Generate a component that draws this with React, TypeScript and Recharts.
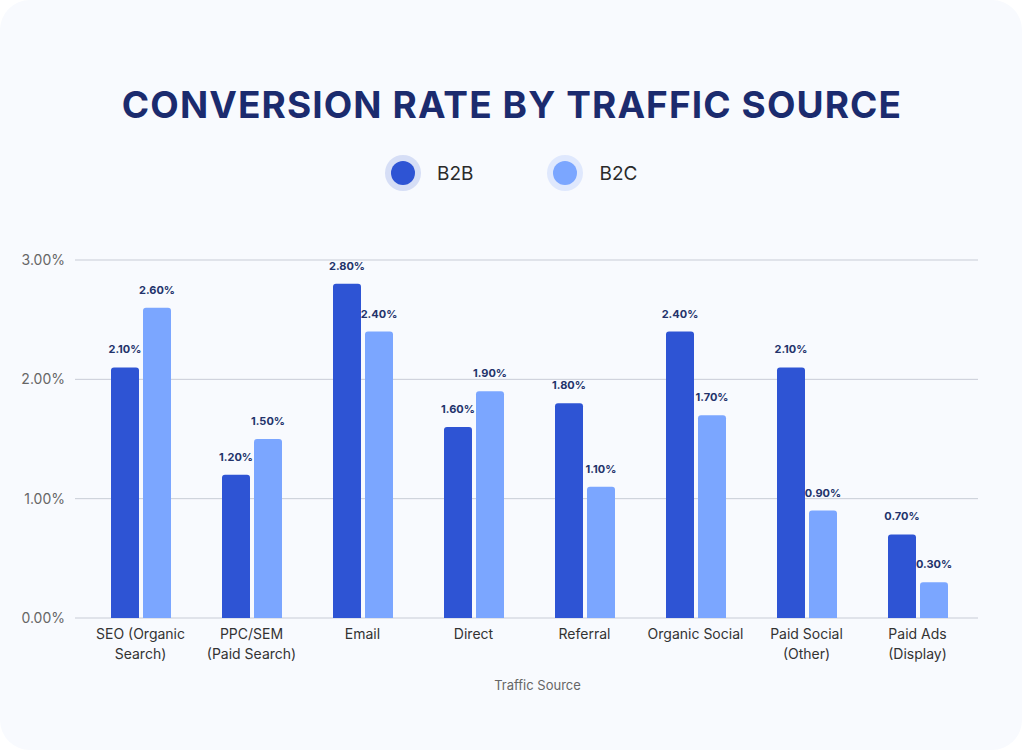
import React from 'react';
import { BarChart, Bar, XAxis, YAxis, CartesianGrid, LabelList } from 'recharts';

// categories (split into the two lines shown under each group)
const categories = [
  'SEO (Organic Search)',
  'PPC/SEM (Paid Search)',
  'Email',
  'Direct',
  'Referral',
  'Organic Social',
  'Paid Social (Other)',
  'Paid Ads (Display)',
];
const tickLines = [
  ['SEO (Organic', 'Search)'],
  ['PPC/SEM', '(Paid Search)'],
  ['Email'],
  ['Direct'],
  ['Referral'],
  ['Organic Social'],
  ['Paid Social', '(Other)'],
  ['Paid Ads', '(Display)'],
];
const b2bValues = [2.1, 1.2, 2.8, 1.6, 1.8, 2.4, 2.1, 0.7];
const b2cValues = [2.6, 1.5, 2.4, 1.9, 1.1, 1.7, 0.9, 0.3];
const yTicks = [0, 1, 2, 3];

const B2B_COLOR = '#2E54D4';
const B2C_COLOR = '#7BA6FF';
const FONT = 'Inter, "Noto Sans", sans-serif';

const chartData = categories.map((name, i) => ({
  name,
  idx: i,
  B2B: b2bValues[i],
  B2C: b2cValues[i],
}));

const pct = (v: any) => `${Number(v).toFixed(2)}%`;

// multi-line category tick
const CategoryTick = (props: any) => {
  const { x, y, payload } = props;
  const lines = tickLines[payload.index] || [payload.value];
  return (
    <text x={x} y={y + 13} textAnchor="middle" fill="#333" fontSize={14} fontFamily={FONT}>
      {lines.map((l, i) => (
        <tspan key={i} x={x} dy={i === 0 ? 0 : 20}>
          {l}
        </tspan>
      ))}
    </text>
  );
};

const LegendItem = ({ color, halo, label }: { color: string; halo: string; label: string }) => (
  <div style={{ display: 'flex', alignItems: 'center' }}>
    <div
      style={{
        width: 36,
        height: 36,
        borderRadius: '50%',
        background: halo,
        display: 'flex',
        alignItems: 'center',
        justifyContent: 'center',
      }}
    >
      <div style={{ width: 24, height: 24, borderRadius: '50%', background: color }} />
    </div>
    <span style={{ marginLeft: 16, fontSize: 19, color: '#2a2a2a', fontFamily: FONT }}>{label}</span>
  </div>
);

export default function App() {
  return (
    <div
      style={{
        position: 'absolute',
        left: 0,
        top: 0,
        width: 1024,
        height: 751,
        background: '#fff',
      }}
    >
      <div
        style={{
          position: 'absolute',
          left: 0,
          top: 0,
          width: 1022,
          height: 750,
          borderRadius: 30,
          background: '#F8FAFE',
        }}
      />
      <div
        style={{
          position: 'absolute',
          left: 0,
          top: 82,
          width: 1024,
          textAlign: 'center',
          fontFamily: FONT,
          fontWeight: 700,
          fontSize: 37,
          color: '#1B2B6E',
          letterSpacing: 1.1,
        }}
      >
        CONVERSION RATE BY TRAFFIC SOURCE
      </div>
      <div
        style={{
          position: 'absolute',
          left: 385,
          top: 155,
          display: 'flex',
          gap: 74,
        }}
      >
        <LegendItem color={B2B_COLOR} halo="#D6DEF6" label="B2B" />
        <LegendItem color={B2C_COLOR} halo="#DFE8FD" label="B2C" />
      </div>
      <div style={{ position: 'absolute', left: 0, top: 0 }}>
        <BarChart
          width={1024}
          height={751}
          data={chartData}
          margin={{ top: 260, right: 46, left: 0, bottom: 58 }}
          barGap={4}
          barSize={28}
        >
          <CartesianGrid vertical={false} stroke="#C8CCD6" />
          <XAxis
            dataKey="name"
            tick={<CategoryTick />}
            tickLine={false}
            axisLine={false}
            interval={0}
            height={75}
            padding={{ left: 10, right: 5 }}
            label={{
              value: 'Traffic Source',
              position: 'insideBottom',
              offset: 3,
              fill: '#666',
              fontSize: 13,
              fontFamily: FONT,
              dx: 11,
            }}
          />
          <YAxis
            width={75}
            domain={[0, 3]}
            ticks={yTicks}
            tickFormatter={pct}
            tickLine={false}
            axisLine={false}
            tick={{ fill: '#666', fontSize: 14, fontFamily: FONT }}
            tickMargin={4}
          />
          <Bar dataKey="B2B" fill={B2B_COLOR} radius={[3, 3, 0, 0]} isAnimationActive={false}>
            <LabelList
              dataKey="B2B"
              position="top"
              offset={14}
              formatter={pct}
              fill="#23336B"
              fontSize={11}
              fontWeight={700}
              fontFamily={FONT}
            />
          </Bar>
          <Bar dataKey="B2C" fill={B2C_COLOR} radius={[3, 3, 0, 0]} isAnimationActive={false}>
            <LabelList
              dataKey="B2C"
              position="top"
              offset={14}
              formatter={pct}
              fill="#23336B"
              fontSize={11}
              fontWeight={700}
              fontFamily={FONT}
            />
          </Bar>
        </BarChart>
      </div>
    </div>
  );
}
